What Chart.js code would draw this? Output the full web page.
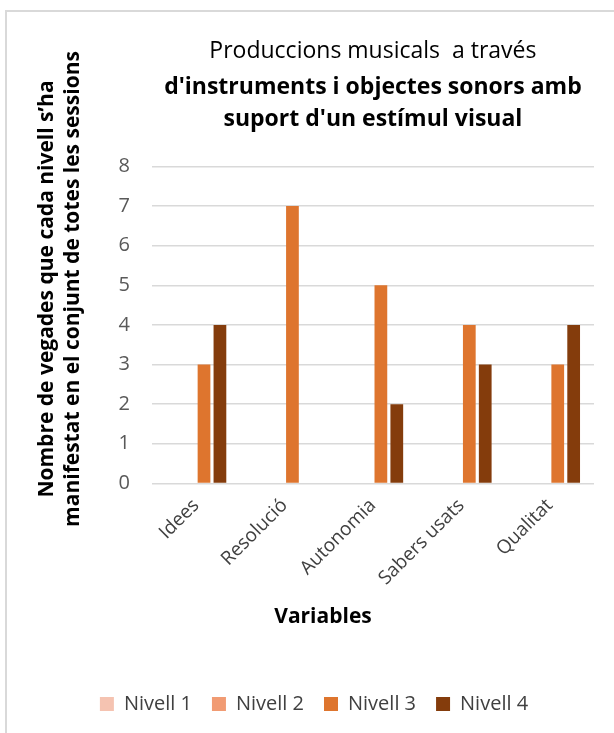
<!DOCTYPE html>
<html>
<head>
<meta charset="utf-8">
<script src="https://cdn.jsdelivr.net/npm/chart.js@4"></script>
<style>
  html, body { margin: 0; padding: 0; background: #fff; }
  #caixa { position: absolute; left: 5px; top: 10px; width: 640px; height: 760px; border: 2px solid #d9d9d9; box-sizing: border-box; }
  #wrap { position: absolute; left: 0; top: 0; width: 614px; height: 733px; }
</style>
</head>
<body>
<div id="caixa"></div>
<div id="wrap"><canvas id="grafico"></canvas></div>
<script>
const categories = ['Idees', 'Resolució', 'Autonomia', 'Sabers usats', 'Qualitat'];
const nivell1 = [0, 0, 0, 0, 0];
const nivell2 = [0, 0, 0, 0, 0];
const nivell3 = [3, 7, 5, 4, 3];
const nivell4 = [4, 0, 2, 3, 4];
const yTicks = [0, 1, 2, 3, 4, 5, 6, 7, 8];
const titolEixY = ["Nombre de vegades que cada nivell s’ha", "manifestat en el conjunt de totes les sessions"];

const FONT = "'Open Sans', 'Noto Sans', sans-serif";

// els títols dels eixos no van centrats sobre l'àrea del gràfic, es dibuixen a mà
const titolsEixos = {
    id: 'titolsEixos',
    afterDraw(chart) {
        const ctx = chart.ctx;
        ctx.save();
        ctx.font = "bold 21px " + FONT;
        ctx.fillStyle = '#000';
        ctx.textAlign = 'center';
        ctx.textBaseline = 'middle';
        ctx.fillText('Variables', 323, chart.scales.x.bottom - 57);

        ctx.translate(60, 289);
        ctx.rotate(-Math.PI / 2);
        ctx.fillText(titolEixY[0], 0, -13);
        ctx.fillText(titolEixY[1], 0, 13);
        ctx.restore();
    }
};

new Chart(document.getElementById('grafico'), {
    type: 'bar',
    data: {
        labels: categories,
        datasets: [
            { label: 'Nivell 1', data: nivell1, backgroundColor: '#f5c3b1' },
            { label: 'Nivell 2', data: nivell2, backgroundColor: '#f19b73' },
            { label: 'Nivell 3', data: nivell3, backgroundColor: '#de752e' },
            { label: 'Nivell 4', data: nivell4, backgroundColor: '#843c0c' }
        ]
    },
    plugins: [titolsEixos],
    options: {
        responsive: true,
        maintainAspectRatio: false,
        animation: false,
        datasets: { bar: { barPercentage: 0.8, categoryPercentage: 0.72 } },
        layout: { padding: { top: 38, left: 34, right: 20, bottom: 9 } },
        plugins: {
            title: {
                display: true,
                fullSize: false,
                text: 'Produccions musicals  a través',
                color: '#000',
                font: { family: FONT, size: 23, weight: 'normal' },
                padding: { top: 0, bottom: 5 }
            },
            subtitle: {
                display: true,
                fullSize: false,
                text: ["d'instruments i objectes sonors amb", "suport d'un estímul visual"],
                color: '#000',
                font: { family: FONT, size: 23, weight: 'bold', lineHeight: 1.43 },
                padding: { top: 0, bottom: 30 }
            },
            legend: {
                position: 'bottom',
                labels: {
                    color: '#404040',
                    boxWidth: 14,
                    boxHeight: 14,
                    padding: 20,
                    font: { family: FONT, size: 20 }
                }
            },
            tooltip: { enabled: false }
        },
        scales: {
            x: {
                grid: { display: false },
                border: { display: false },
                ticks: {
                    color: '#404040',
                    maxRotation: 45,
                    minRotation: 45,
                    font: { family: FONT, size: 19 }
                },
                title: {
                    display: true,
                    text: 'Variables',
                    color: 'transparent',
                    font: { family: FONT, size: 21, weight: 'bold' },
                    padding: { top: 10, bottom: 46 }
                }
            },
            y: {
                min: 0,
                max: 8,
                afterBuildTicks: (axis) => { axis.ticks = yTicks.map(v => ({ value: v })); },
                grid: { color: '#d9d9d9', lineWidth: 1.5, drawTicks: false },
                border: { display: false },
                ticks: {
                    color: '#595959',
                    padding: 22,
                    font: { family: FONT, size: 20 }
                },
                title: {
                    display: true,
                    text: titolEixY,
                    color: 'transparent',
                    font: { family: FONT, size: 21, weight: 'bold', lineHeight: 1.2 },
                    padding: { top: 0, bottom: 12 }
                }
            }
        }
    }
});
</script>
</body>
</html>
